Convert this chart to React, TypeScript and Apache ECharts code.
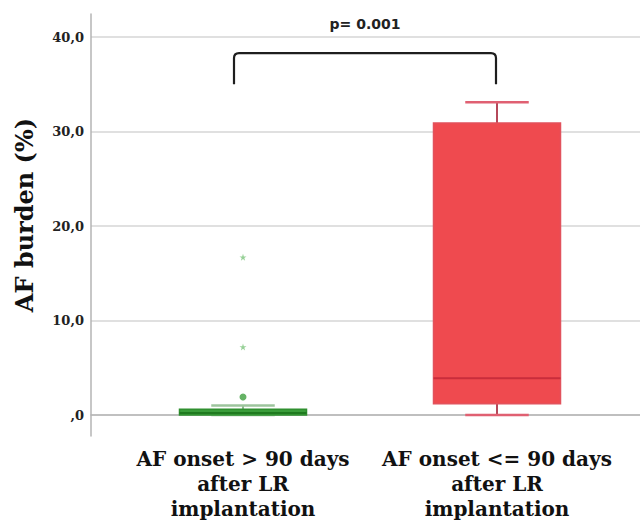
import React, { useEffect, useRef } from "react";
import * as echarts from "echarts";

const categories = [
  "AF onset > 90 days\nafter LR\nimplantation",
  "AF onset <= 90 days\nafter LR\nimplantation",
];
// [min, Q1, median, Q3, max]
const boxGreen = [0, 0, 0.2, 0.6, 1.0];
const boxRed = [0, 1.2, 3.9, 30.9, 33.1];
const circleOutliers = [[0, 1.9]];
const starOutliers = [[0, 7.2], [0, 16.7]];
const yTicks = [0, 10, 20, 30, 40];
const yName = "AF burden (%)";
const pText = "p= 0.001";
const bracketCats = [0, 1];
const bracketY = [35.0, 38.3];
const pLabelY = 41.4;

const STAR = "path://M50,0 L61,35 L98,35 L68,57 L79,91 L50,70 L21,91 L32,57 L2,35 L39,35 Z";
const SERIF = '"DejaVu Serif", serif';

const boxStyles = [
  { fill: "#3a9d3a", stroke: "#2f8f2f", median: "#1f7a1f", whisker: "#8fb88f", cap: "#9cc49c" },
  { fill: "#ef4a4f", stroke: "#e2525c", median: "#c92d3b", whisker: "#b5485a", cap: "#e06072" },
];

export default function App() {
  const ref = useRef<HTMLDivElement>(null);
  useEffect(() => {
    document.body.style.margin = "0";
    const chart = echarts.init(ref.current!, null, { renderer: "svg" });
    const fmt = (v: number) => (v === 0 ? ",0" : v.toFixed(1).replace(".", ","));
    const boxRows = [boxGreen, boxRed].map((b, i) => [i, ...b]);
    chart.setOption({
      animation: false,
      backgroundColor: "#ffffff",
      grid: [
        { left: 91, right: 0, top: 14, bottom: 86 },
        { left: 91, right: 0, top: 37, bottom: 107 },
        { left: 116, right: 16, top: 37, bottom: 107 },
      ],
      xAxis: [
        {
          gridIndex: 0, type: "category", data: categories,
          axisLine: { lineStyle: { color: "#b5b5b5", width: 1.5 } },
          axisTick: { show: false }, axisLabel: { show: false },
        },
        { gridIndex: 1, type: "category", data: categories, show: false },
        {
          gridIndex: 2, type: "category", data: categories,
          axisLine: { show: false }, axisTick: { show: false },
          axisLabel: {
            margin: 31, fontFamily: SERIF, fontWeight: "bold", fontSize: 20,
            lineHeight: 25, color: "#111", interval: 0,
          },
        },
      ],
      yAxis: [
        {
          gridIndex: 0, type: "value", min: -2.2, max: 42.4,
          axisLine: { show: true, lineStyle: { color: "#b5b5b5", width: 1.5 } },
          axisTick: { show: false }, axisLabel: { show: false }, splitLine: { show: false },
          name: yName, nameLocation: "middle", nameGap: 55,
          nameTextStyle: {
            fontFamily: SERIF, fontWeight: "bold", fontSize: 24, color: "#111",
            padding: [0, 0, 0, 20],
          },
        },
        {
          gridIndex: 1, type: "value", min: yTicks[0], max: yTicks[yTicks.length - 1], interval: 10,
          axisLine: { show: false }, axisTick: { show: false },
          axisLabel: {
            margin: 7, fontFamily: SERIF, fontWeight: "bold", fontSize: 13, color: "#222",
            formatter: fmt,
          },
          splitLine: { show: true, lineStyle: { color: "#d6d6d6", width: 1.5 } },
        },
        {
          gridIndex: 2, type: "value", min: yTicks[0], max: yTicks[yTicks.length - 1], show: false,
          splitLine: { show: false },
        },
      ],
      series: [
        {
          type: "custom", xAxisIndex: 2, yAxisIndex: 2, clip: false, silent: true,
          data: boxRows,
          renderItem: (params: any, api: any) => {
            const s = boxStyles[params.dataIndex];
            const c = api.value(0);
            const bw = api.size([1, 0])[0] * 0.5;
            const cw = bw / 2;
            const cx = api.coord([c, 0])[0];
            const yMin = api.coord([c, api.value(1)])[1];
            const yQ1 = api.coord([c, api.value(2)])[1];
            const yMed = api.coord([c, api.value(3)])[1];
            const yQ3 = api.coord([c, api.value(4)])[1];
            const yMax = api.coord([c, api.value(5)])[1];
            const line = (x1: number, y1: number, x2: number, y2: number, color: string, w: number) => ({
              type: "line",
              shape: { x1, y1, x2, y2 },
              style: { stroke: color, lineWidth: w },
            });
            return {
              type: "group",
              children: [
                line(cx, yQ3, cx, yMax, s.whisker, 2),
                line(cx, yQ1, cx, yMin, s.whisker, 2),
                line(cx - cw / 2, yMax, cx + cw / 2, yMax, s.cap, 2.5),
                line(cx - cw / 2, yMin, cx + cw / 2, yMin, s.cap, 2.5),
                {
                  type: "rect",
                  shape: { x: cx - bw / 2, y: yQ3, width: bw, height: yQ1 - yQ3 },
                  style: { fill: s.fill, stroke: s.stroke, lineWidth: 1.5 },
                },
                line(cx - bw / 2, yMed, cx + bw / 2, yMed, s.median, 2),
              ],
            };
          },
        },
        {
          type: "scatter", xAxisIndex: 2, yAxisIndex: 2,
          symbol: "circle", symbolSize: 7,
          itemStyle: { color: "#3f9f3f" },
          data: circleOutliers,
        },
        {
          type: "scatter", xAxisIndex: 2, yAxisIndex: 2,
          symbol: STAR, symbolSize: 7,
          itemStyle: { color: "#7cc47c" },
          data: starOutliers,
        },
        {
          type: "custom", xAxisIndex: 2, yAxisIndex: 2, clip: false, silent: true,
          data: [[bracketCats[0], bracketY[0]]],
          renderItem: (_p: any, api: any) => {
            const a = api.coord([bracketCats[0], bracketY[0]]);
            const b = api.coord([bracketCats[1], bracketY[1]]);
            const t = api.coord([bracketCats[0], pLabelY]);
            const lx = a[0] - 9;
            const rx = b[0] - 1;
            const by = a[1];
            const ty = b[1];
            const r = 5;
            const d = `M${lx},${by} L${lx},${ty + r} Q${lx},${ty} ${lx + r},${ty} L${rx - r},${ty} Q${rx},${ty} ${rx},${ty + r} L${rx},${by}`;
            return {
              type: "group",
              children: [
                {
                  type: "path",
                  shape: { pathData: d },
                  style: { stroke: "#1e1e1e", lineWidth: 2.2, fill: "none" },
                },
                {
                  type: "text",
                  x: (lx + rx) / 2, y: t[1],
                  style: {
                    text: pText, fill: "#222", align: "center", verticalAlign: "middle",
                    font: 'bold 14px "DejaVu Sans", sans-serif',
                  },
                },
              ],
            };
          },
        },
      ],
    });
    return () => chart.dispose();
  }, []);
  return <div ref={ref} style={{ width: 640, height: 522 }} />;
}
